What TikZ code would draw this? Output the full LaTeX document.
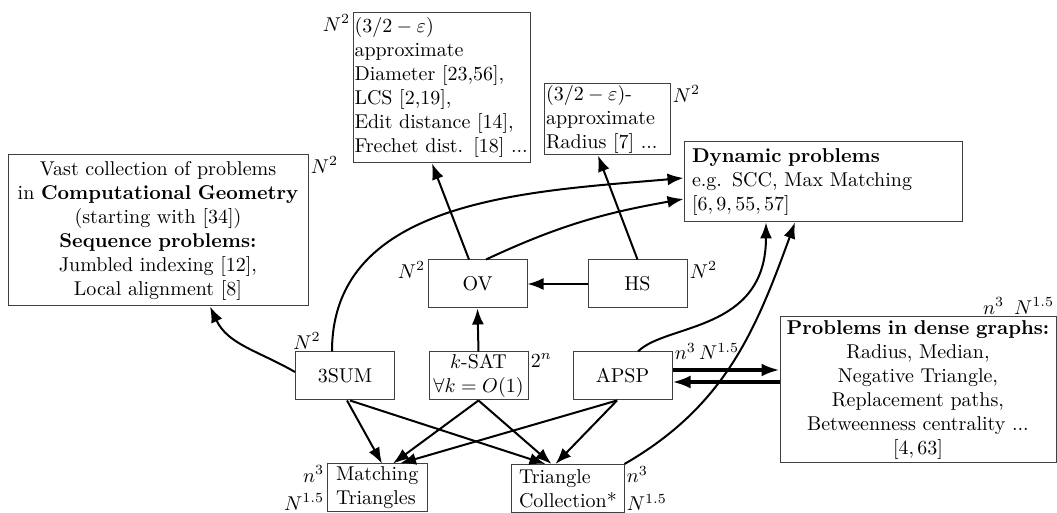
\documentclass[tikz,border=0pt]{standalone}
\usetikzlibrary{arrows.meta}
\begin{document}
\begin{tikzpicture}[x=0.5pt,y=0.5pt,
  box/.style={draw=black!75, line width=0.5pt, rectangle, inner xsep=1pt, inner ysep=0pt},
  sbox/.style={box, minimum width=49.5pt, minimum height=24pt, align=center},
  lab/.style={inner sep=1pt},
  arr/.style={-{Latex[length=8pt,width=6pt]}, line width=1pt},
  darr/.style={-{Latex[length=9pt,width=6.5pt]}, line width=1.7pt}]
\useasboundingbox (0,0) rectangle (1057,513);

% nodes
\node[box, minimum width=150pt, minimum height=75.5pt, text width=148pt, align=center] (geom) at (158,282.5)
 {Vast collection of problems\\ in \textbf{Computational Geometry}\\ (starting with [34])\\ \textbf{Sequence problems:}\\ Jumbled indexing [12],\\ Local alignment [8]};
\node[box, minimum width=88.5pt, minimum height=75pt, text width=87pt, inner xsep=0.75pt, align=left] (diam) at (441.5,425)
 {$(3/2-\varepsilon)$\\ approximate\\ Diameter [23,56],\\ LCS [2,19],\\ Edit distance [14],\\ Frechet dist. [18] ...};
\node[box, minimum width=63pt, minimum height=35.5pt, text width=61pt, align=left] (rad) at (607,393.5)
 {$(3/2-\varepsilon)$-\\ approximate\\ Radius [7] ...};
\node[box, minimum width=139pt, minimum height=40pt, text width=131pt, inner xsep=4pt, align=left] (dyn) at (823,331)
 {\textbf{Dynamic problems}\\ e.g. SCC, Max Matching\\ $[6,9,55,57]$};
\node[sbox] (ov) at (477.5,229) {OV};
\node[sbox] (hs) at (637.5,229) {HS};
\node[sbox] (sum) at (345,137) {3SUM};
\node[sbox] (sat) at (478.5,137) {$k$-SAT\\ $\forall k=O(1)$};
\node[sbox] (apsp) at (622.5,137) {APSP};
\node[box, minimum width=50pt, minimum height=24pt, text width=41pt, inner xsep=4.5pt, align=left] (mt) at (377,25)
 {Matching\\ Triangles};
\node[box, minimum width=56.5pt, minimum height=24pt, text width=48.5pt, inner xsep=4pt, align=left] (tc) at (567.5,24.5)
 {Triangle\\ Collection*};
\node[box, minimum width=138pt, minimum height=73pt, text width=136pt, align=center] (dense) at (918,123)
 {\textbf{Problems in dense graphs:}\\ Radius, Median,\\ Negative Triangle,\\ Replacement paths,\\ Betweenness centrality ...\\ $[4,63]$};

% labels
\node[lab, anchor=north west] (lgeom) at (geom.north east) {$N^2$};
\node[lab, anchor=north east] (ldiam) at (diam.north west) {$N^2$};
\node[lab, anchor=north west] (lrad) at (rad.north east) {$N^2$};
\node[lab, anchor=north east] (lov) at (ov.north west) {$N^2$};
\node[lab, anchor=north west] (lhs) at (hs.north east) {$N^2$};
\node[lab, anchor=south west, xshift=-2pt] (lsum) at (sum.north west) {$N^2$};
\node[lab, anchor=north west] (lsat) at (sat.north east) {$2^n$};
\node[lab, anchor=west] (lapsp) at (apsp.north east) {$n^3\,N^{1.5}$};
\node[lab, anchor=south east] (ldense) at (dense.north east) {$n^3$\hspace{5pt}$N^{1.5}$};
\node[lab, anchor=north east] (lmt1) at (mt.north west) {$n^3$};
\node[lab, anchor=south east] (lmt2) at (mt.south west) {$N^{1.5}$};
\node[lab, anchor=north west] (ltc1) at (tc.north east) {$n^3$};
\node[lab, anchor=south west] (ltc2) at (tc.south east) {$N^{1.5}$};

% connectors
\draw[arr] ([yshift=2pt]sum.west) to[out=150,in=-65] ([xshift=26pt]geom.south);
\draw[arr] ([xshift=-6.5pt]sum.north) to[out=90,in=185] ([yshift=2pt]dyn.west);
\draw[arr] ([xshift=-4.25pt]ov.north) -- ([xshift=-4.75pt]diam.south);
\draw[arr] ([xshift=4.25pt]ov.north) to[out=25,in=190] ([yshift=-8.5pt]dyn.west);
\draw[arr] (hs.north) -- ([xshift=-4.5pt]rad.south);
\draw[arr] (hs.west) -- (ov.east);
\draw[arr] (sat.north) -- (ov.south);
\draw[arr] ([xshift=7.75pt]apsp.north) .. controls +(45:40) and +(-90:110) .. ([xshift=-28.5pt]dyn.south);
\draw[arr] (tc.north east) to[out=30,in=250] ([xshift=-14pt]dyn.south);
\draw[darr] ([yshift=3pt]apsp.east) -- ([yshift=3pt]apsp.east -| dense.west);
\draw[darr] ([yshift=-3pt]apsp.east -| dense.west) -- ([yshift=-3pt]apsp.east);

\draw[arr] ([xshift=1pt]sum.south) -- ([xshift=2.5pt]mt.north);
\draw[arr] ([xshift=2.5pt]sum.south) -- ([xshift=-11pt]tc.north);
\draw[arr] (sat.south) -- ([xshift=8pt]mt.north);
\draw[arr] (sat.south) -- ([xshift=-8pt]tc.north);
\draw[arr] ([xshift=-2.75pt]apsp.south) -- ([xshift=11.5pt]mt.north);
\draw[arr] ([xshift=-2.75pt]apsp.south) -- ([xshift=-6pt]tc.north);
\end{tikzpicture}
\end{document}
